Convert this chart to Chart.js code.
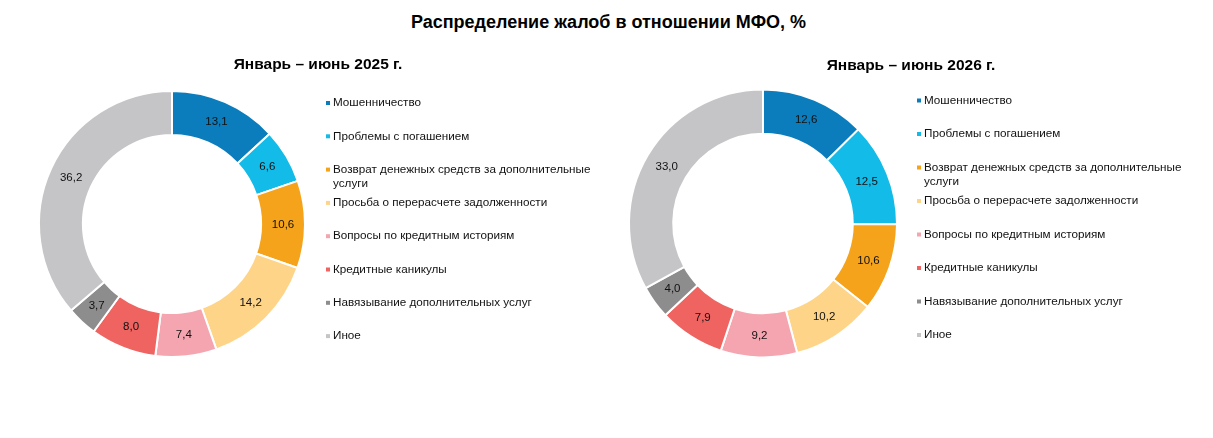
<!DOCTYPE html>
<html><head><meta charset="utf-8">
<script src="https://cdn.jsdelivr.net/npm/chart.js@4.4.1/dist/chart.umd.min.js"></script>
<style>
body{margin:0;background:#fff;width:1213px;height:438px;overflow:hidden;position:relative;font-family:"Liberation Sans",Arial,sans-serif}
#title{position:absolute;left:2px;width:1213px;top:11px;text-align:center;font-weight:bold;font-size:18px;line-height:22px;color:#000}
.wrap{position:absolute;top:0;width:600px;height:438px}
</style></head><body>
<div id="title">Распределение жалоб в отношении МФО, %</div>
<div class="wrap" style="left:0"><canvas id="c1" width="600" height="438"></canvas></div>
<div class="wrap" style="left:590px"><canvas id="c2" width="600" height="438"></canvas></div>
<script>
const categories = [
  'Мошенничество',
  'Проблемы с погашением',
  'Возврат денежных средств за дополнительные услуги',
  'Просьба о перерасчете задолженности',
  'Вопросы по кредитным историям',
  'Кредитные каникулы',
  'Навязывание дополнительных услуг',
  'Иное'
];
const values2025 = [13.1, 6.6, 10.6, 14.2, 7.4, 8.0, 3.7, 36.2];
const values2026 = [12.6, 12.5, 10.6, 10.2, 9.2, 7.9, 4.0, 33.0];
const periodLabels = ['Январь – июнь 2025 г.', 'Январь – июнь 2026 г.'];
const colors = ['#0b7cbc', '#12bbe8', '#f5a31b', '#fdd488', '#f4a5b0', '#ef6360', '#8d8d8d', '#c5c5c7'];

const FONT = '"Liberation Sans", Arial, sans-serif';

const labelsPlugin = {
  id: 'valueLabels',
  afterDatasetsDraw(chart) {
    const ctx = chart.ctx;
    const meta = chart.getDatasetMeta(0);
    const data = chart.data.datasets[0].data;
    ctx.save();
    ctx.font = '11.5px ' + FONT;
    ctx.fillStyle = '#111';
    ctx.textAlign = 'center';
    ctx.textBaseline = 'middle';
    meta.data.forEach((arc, i) => {
      const p = arc.tooltipPosition();
      ctx.fillText(data[i].toFixed(1).replace('.', ','), p.x, p.y);
    });
    ctx.restore();
  }
};

function wrapText(ctx, text, maxW) {
  const words = text.split(' ');
  const lines = [];
  let cur = '';
  words.forEach(w => {
    const t = cur ? cur + ' ' + w : w;
    if (ctx.measureText(t).width > maxW && cur) { lines.push(cur); cur = w; }
    else cur = t;
  });
  if (cur) lines.push(cur);
  return lines;
}

const sideLegendPlugin = {
  id: 'sideLegend',
  afterDraw(chart, args, opts) {
    const ctx = chart.ctx;
    ctx.save();
    // subtitle
    ctx.font = 'bold 15.5px ' + FONT;
    ctx.fillStyle = '#000';
    ctx.textAlign = 'center';
    ctx.textBaseline = 'middle';
    ctx.fillText(opts.subtitle, opts.subX, opts.subY);
    // legend
    ctx.font = '11.7px ' + FONT;
    ctx.textAlign = 'left';
    const labels = chart.data.labels;
    const bg = chart.data.datasets[0].backgroundColor;
    labels.forEach((lab, i) => {
      const y = opts.top + i * opts.step;
      ctx.fillStyle = bg[i];
      ctx.fillRect(opts.x, y - 2, 4, 4);
      ctx.fillStyle = '#111';
      const lines = wrapText(ctx, lab, 275);
      lines.forEach((ln, j) => ctx.fillText(ln, opts.x + 7, y + j * 14));
    });
    ctx.restore();
  }
};

function makeChart(id, values, subtitle, pad, legendOpts) {
  return new Chart(document.getElementById(id), {
    type: 'doughnut',
    data: {
      labels: categories,
      datasets: [{
        data: values,
        backgroundColor: colors,
        borderColor: '#ffffff',
        borderWidth: 2
      }]
    },
    options: {
      responsive: false,
      animation: false,
      cutout: '67%',
      layout: { padding: pad },
      plugins: {
        legend: { display: false },
        tooltip: { enabled: false },
        title: { display: false },
        sideLegend: Object.assign({ subtitle: subtitle }, legendOpts)
      }
    },
    plugins: [labelsPlugin, sideLegendPlugin]
  });
}

makeChart('c1', values2025, periodLabels[0],
  { left: 38, top: 90, right: 294, bottom: 80 },
  { x: 326, top: 103, step: 33.3, subX: 318, subY: 65 });
makeChart('c2', values2026, periodLabels[1],
  { left: 38, top: 88.5, right: 292, bottom: 79.5 },
  { x: 327, top: 100.5, step: 33.5, subX: 321, subY: 66 });
</script>
</body></html>
